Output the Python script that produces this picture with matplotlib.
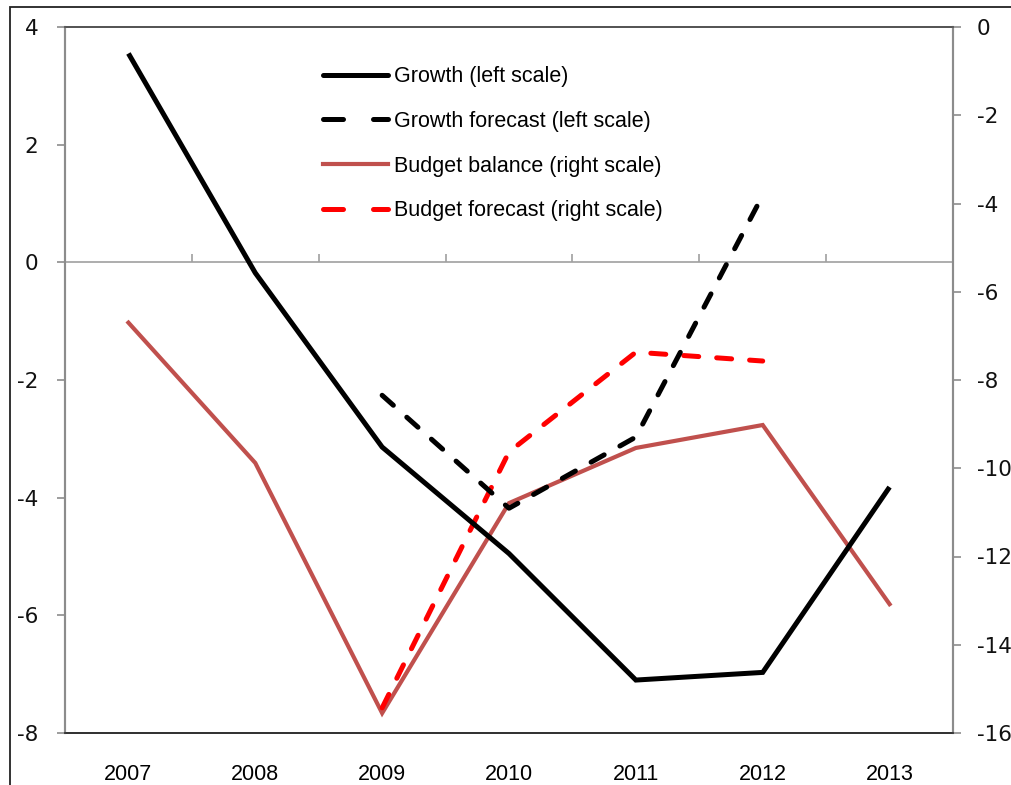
import numpy as np
import matplotlib.pyplot as plt
from matplotlib.patches import Rectangle
from matplotlib.lines import Line2D

plt.rcParams['axes.unicode_minus'] = False
plt.rcParams['font.family'] = 'DejaVu Sans'

# ======== Data ========
years = ['2007', '2008', '2009', '2010', '2011', '2012', '2013']

growth = [3.55, -0.18, -3.14, -4.95, -7.1, -6.97, -3.82]          # left scale
growth_fc_years = ['2009', '2010', '2011', '2012']
growth_fc = [-2.26, -4.18, -2.97, 1.14]                            # left scale

budget = [-6.7, -9.88, -15.55, -10.79, -9.54, -9.02, -13.08]       # right scale
budget_fc_years = ['2009', '2010', '2011', '2012']
budget_fc = [-15.43, -9.63, -7.37, -7.57]                          # right scale

x = np.arange(len(years))
x_fc = np.array([years.index(y) for y in growth_fc_years])
x_bfc = np.array([years.index(y) for y in budget_fc_years])

BLACK = '#000000'
BROWN_RED = '#C0504D'
RED = '#FF0000'
GREY = '#8C8C8C'
DASH = (0, (3, 3.6))

fig = plt.figure(figsize=(10.11, 7.85), dpi=100)
ax = fig.add_axes([65 / 1011, 52 / 785, 888 / 1011, 706 / 785])
ax2 = ax.twinx()

# outer chart border (only top and left edges are inside the picture)
fig.patches.append(Rectangle((10 / 1011, -0.1), 1.2, (785 - 7) / 785 + 0.1,
                             transform=fig.transFigure, fill=False,
                             edgecolor='#222222', linewidth=1.3))

# zero line for left scale
ax.axhline(0, color='#A0A0A0', linewidth=1.2, zorder=1)

ax.plot(x, growth, color=BLACK, linewidth=3.6, solid_capstyle='butt',
        solid_joinstyle='miter', zorder=4)
ax.plot(x_fc, growth_fc, color=BLACK, linewidth=3.6, linestyle=DASH,
        dash_capstyle='round', zorder=4)
ax2.plot(x, budget, color=BROWN_RED, linewidth=3.0, solid_joinstyle='miter', zorder=3)
ax2.plot(x_bfc, budget_fc, color=RED, linewidth=3.6, linestyle=DASH,
         dash_capstyle='round', zorder=3)

ax.set_zorder(ax2.get_zorder() + 1)
ax.patch.set_visible(False)

# axes ranges
ax.set_xlim(-0.5, 6.5)
ax.set_ylim(-8, 4)
ax2.set_ylim(-16, 0)
ax.set_yticks(np.arange(-8, 5, 2))
ax2.set_yticks(np.arange(-16, 1, 2))

# x labels at bottom, no tick marks there
ax.set_xticks(x)
ax.set_xticklabels(years, fontfamily='Liberation Sans', fontsize=15.5)
ax.tick_params(axis='x', length=0, pad=22)

# category boundary ticks on the zero line
sec = ax.secondary_xaxis(2 / 3)
sec.set_xticks(np.arange(-0.5, 7, 1))
sec.set_xticklabels([])
sec.tick_params(axis='x', direction='out', length=6, width=1.2, color='#A0A0A0')
sec.spines['bottom'].set_visible(False)
sec.spines['top'].set_visible(False)

ax.tick_params(axis='y', direction='out', length=6, width=1.2, color=GREY,
               labelsize=15.5, pad=13)
ax2.tick_params(axis='y', direction='out', length=6, width=1.2, color=GREY,
                labelsize=15.5, pad=11)
for lab in ax.get_yticklabels() + ax2.get_yticklabels():
    lab.set_color('#111111')
    lab.set_fontfamily('DejaVu Sans')

for a in (ax, ax2):
    a.spines['left'].set_color(GREY)
    a.spines['right'].set_color(GREY)
    a.spines['left'].set_linewidth(1.5)
    a.spines['right'].set_linewidth(1.5)
    a.spines['top'].set_color('#555555')
    a.spines['bottom'].set_color('#333333')
    a.spines['top'].set_linewidth(1.3)
    a.spines['bottom'].set_linewidth(1.3)

# legend proxies (dash pattern tuned so each handle shows two dashes)
leg_dash = (0, (4, 6))
handles = [
    Line2D([], [], color=BLACK, linewidth=3.6, solid_capstyle='round'),
    Line2D([], [], color=BLACK, linewidth=3.6, linestyle=leg_dash, dash_capstyle='round'),
    Line2D([], [], color=BROWN_RED, linewidth=3.0),
    Line2D([], [], color=RED, linewidth=3.6, linestyle=leg_dash, dash_capstyle='round'),
]
labels = ['Growth (left scale)', 'Growth forecast (left scale)',
          'Budget balance (right scale)', 'Budget forecast (right scale)']
ax.legend(handles, labels, loc='upper left',
          bbox_to_anchor=(0.269, 0.972), frameon=False,
          prop={'family': 'Liberation Sans', 'size': 15.5},
          handlelength=3.0, handletextpad=0.3, labelspacing=1.1)

plt.savefig('out.png', dpi=100)
